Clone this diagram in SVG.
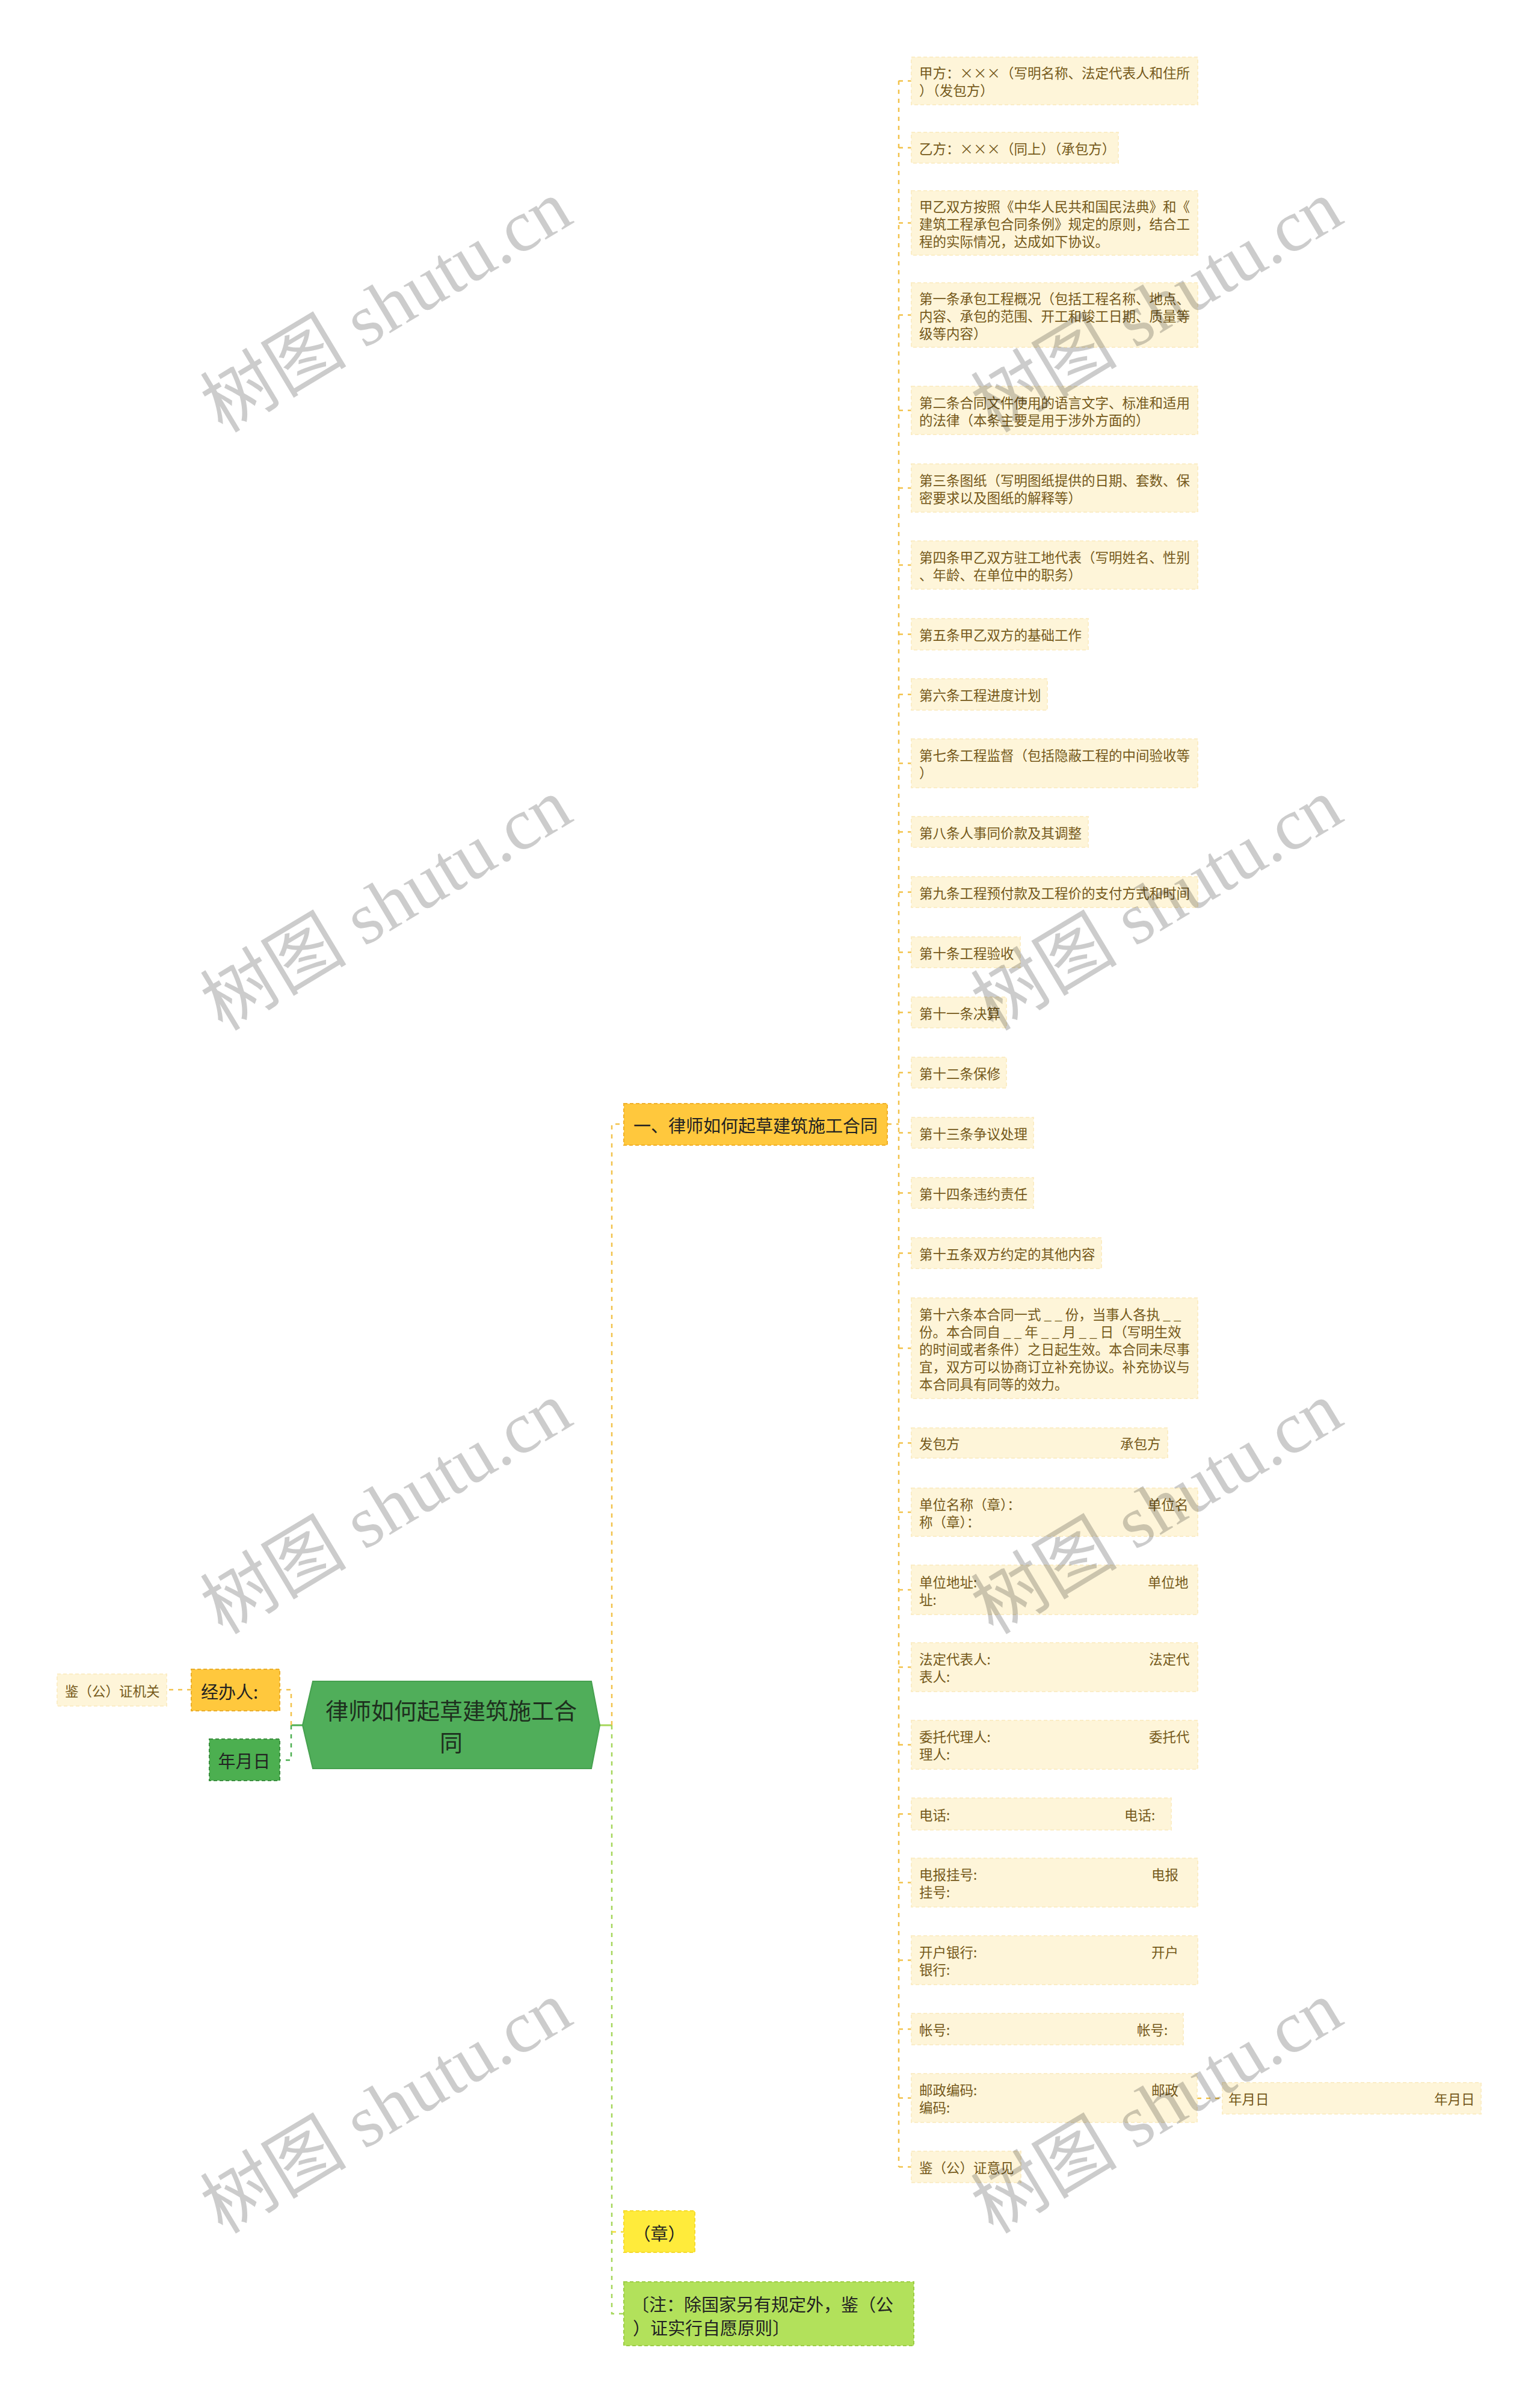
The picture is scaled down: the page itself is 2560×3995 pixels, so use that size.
<svg xmlns="http://www.w3.org/2000/svg" width="2560" height="3995" viewBox="0 0 2560 3995">
<style>
text{font-family:"Noto Sans CJK SC","Liberation Sans",sans-serif;dominant-baseline:central}
.leaf rect{fill:#FEF5D9;stroke:#FBEDC6;stroke-width:2;stroke-dasharray:6 4}
.leaf text{font-size:22.5px;fill:#75591A}
.cy{fill:none;stroke:#F2C24A;stroke-width:2.5;stroke-dasharray:7 8}
.cg{fill:none;stroke:#4CAF50;stroke-width:2.5;stroke-dasharray:7 8}
.cl{fill:none;stroke:#A5D65A;stroke-width:2.5;stroke-dasharray:7 8}
.br text{font-size:29px;fill:#222}
.wm{font-family:"Liberation Serif","Noto Sans CJK SC",serif;font-size:122px;fill:#000;fill-opacity:0.2;text-anchor:middle;dominant-baseline:central}
</style>
<rect width="2560" height="3995" fill="#FFFFFF"/>
<g id="connectors">
<path d="M503 2867 H484" fill="none" stroke="#4CAF50" stroke-width="3"/>
<path class="cy" d="M484 2867 V2808 H465"/>
<path class="cg" d="M484 2867 V2925 H465"/>
<path class="cy" d="M318 2808 H277"/>
<path d="M997 2867 H1017" fill="none" stroke="#A5D65A" stroke-width="3"/>
<path class="cy" d="M1017 2867 V1868 H1037"/>
<path class="cl" d="M1017 2867 V3845 H1037"/>
<path class="cy" d="M1017 3709 H1037" style="stroke:#F5DC3A"/>
<path class="cy" d="M1475 1868 H1494"/>
<path class="cy" d="M1494 134 V3601"/>
<path class="cy" d="M1494 134.5 H1515 M1494 245.5 H1515 M1494 370.5 H1515 M1494 523.5 H1515 M1494 682 H1515 M1494 811 H1515 M1494 939 H1515 M1494 1054 H1515 M1494 1154 H1515 M1494 1268.5 H1515 M1494 1382.5 H1515 M1494 1482.5 H1515 M1494 1582.5 H1515 M1494 1682.5 H1515 M1494 1782.5 H1515 M1494 1882.5 H1515 M1494 1982.5 H1515 M1494 2082.5 H1515 M1494 2240.5 H1515 M1494 2398 H1515 M1494 2513 H1515 M1494 2642 H1515 M1494 2770.5 H1515 M1494 2899.5 H1515 M1494 3014.5 H1515 M1494 3128.5 H1515 M1494 3257.5 H1515 M1494 3372 H1515 M1494 3486.5 H1515 M1494 3601 H1515"/>
<path class="cy" d="M1990 3487 H2032"/>
</g>
<g id="root">
<polygon points="520,2794 983,2794 997,2867 983,2939 520,2939 503,2867" fill="#50AE5A" stroke="#46A04F" stroke-width="2"/>
<text x="750" y="2840" text-anchor="middle" font-size="38" fill="#1E2F1E">律师如何起草建筑施工合</text>
<text x="750" y="2893" text-anchor="middle" font-size="38" fill="#1E2F1E">同</text>
</g>
<g id="n-jingbanren" class="br">
<rect x="318" y="2774" width="147" height="69" fill="#FFC83D" stroke="#EBAE2A" stroke-width="2" stroke-dasharray="6 4"/>
<text x="334" y="2810">经办人:</text>
</g>
<g id="n-jianzheng" class="leaf">
<rect x="95" y="2782" width="182" height="53"/>
<text x="108" y="2808.5">鉴（公）证机关</text>
</g>
<g id="n-nianyueri-left" class="br">
<rect x="348" y="2890" width="117" height="69" fill="#4CAF50" stroke="#3B8F3F" stroke-width="2" stroke-dasharray="6 4"/>
<text x="406" y="2925" text-anchor="middle">年月日</text>
</g>
<g id="n-branch1" class="br">
<rect x="1037" y="1834" width="438" height="69" fill="#FFC83D" stroke="#F0B028" stroke-width="2" stroke-dasharray="6 4"/>
<text x="1053" y="1869">一、律师如何起草建筑施工合同</text>
</g>
<g id="n-zhang" class="br">
<rect x="1037" y="3674" width="118" height="69" fill="#FFEB3B" stroke="#F5DA2C" stroke-width="2" stroke-dasharray="6 4"/>
<text x="1096" y="3710" text-anchor="middle">（章）</text>
</g>
<g id="n-note" class="br">
<rect x="1037" y="3792" width="482" height="106" fill="#B2E15B" stroke="#9CCD45" stroke-width="2" stroke-dasharray="6 4"/>
<text x="1050" y="3828">〔注：除国家另有规定外，鉴（公</text>
<text x="1052" y="3867">）证实行自愿原则〕</text>
</g>
<g id="n1" class="leaf"><rect x="1515" y="95" width="476" height="79"/><text x="1528" y="120">甲方：×××（写明名称、法定代表人和住所</text><text x="1528" y="149">）（发包方）</text></g>
<g id="n2" class="leaf"><rect x="1515" y="220" width="344" height="51"/><text x="1528" y="245.5">乙方：×××（同上）（承包方）</text></g>
<g id="n3" class="leaf"><rect x="1515" y="317" width="476" height="107"/><text x="1528" y="341.5">甲乙双方按照《中华人民共和国民法典》和《</text><text x="1528" y="370.5">建筑工程承包合同条例》规定的原则，结合工</text><text x="1528" y="399.5">程的实际情况，达成如下协议。</text></g>
<g id="n4" class="leaf"><rect x="1515" y="470" width="476" height="107"/><text x="1528" y="494.5">第一条承包工程概况（包括工程名称、地点、</text><text x="1528" y="523.5">内容、承包的范围、开工和竣工日期、质量等</text><text x="1528" y="552.5">级等内容）</text></g>
<g id="n5" class="leaf"><rect x="1515" y="642" width="476" height="80"/><text x="1528" y="667.5">第二条合同文件使用的语言文字、标准和适用</text><text x="1528" y="696.5">的法律（本条主要是用于涉外方面的）</text></g>
<g id="n6" class="leaf"><rect x="1515" y="771" width="476" height="80"/><text x="1528" y="796.5">第三条图纸（写明图纸提供的日期、套数、保</text><text x="1528" y="825.5">密要求以及图纸的解释等）</text></g>
<g id="n7" class="leaf"><rect x="1515" y="899" width="476" height="80"/><text x="1528" y="924.5">第四条甲乙双方驻工地代表（写明姓名、性别</text><text x="1528" y="953.5">、年龄、在单位中的职务）</text></g>
<g id="n8" class="leaf"><rect x="1515" y="1028" width="294" height="52"/><text x="1528" y="1054">第五条甲乙双方的基础工作</text></g>
<g id="n9" class="leaf"><rect x="1515" y="1128" width="226" height="52"/><text x="1528" y="1154">第六条工程进度计划</text></g>
<g id="n10" class="leaf"><rect x="1515" y="1228" width="476" height="81"/><text x="1528" y="1254">第七条工程监督（包括隐蔽工程的中间验收等</text><text x="1528" y="1283">）</text></g>
<g id="n11" class="leaf"><rect x="1515" y="1357" width="294" height="51"/><text x="1528" y="1382.5">第八条人事同价款及其调整</text></g>
<g id="n12" class="leaf"><rect x="1515" y="1457" width="476" height="51"/><text x="1528" y="1482.5">第九条工程预付款及工程价的支付方式和时间</text></g>
<g id="n13" class="leaf"><rect x="1515" y="1557" width="181" height="51"/><text x="1528" y="1582.5">第十条工程验收</text></g>
<g id="n14" class="leaf"><rect x="1515" y="1657" width="158" height="51"/><text x="1528" y="1682.5">第十一条决算</text></g>
<g id="n15" class="leaf"><rect x="1515" y="1757" width="158" height="51"/><text x="1528" y="1782.5">第十二条保修</text></g>
<g id="n16" class="leaf"><rect x="1515" y="1857" width="203" height="51"/><text x="1528" y="1882.5">第十三条争议处理</text></g>
<g id="n17" class="leaf"><rect x="1515" y="1957" width="203" height="51"/><text x="1528" y="1982.5">第十四条违约责任</text></g>
<g id="n18" class="leaf"><rect x="1515" y="2057" width="316" height="51"/><text x="1528" y="2082.5">第十五条双方约定的其他内容</text></g>
<g id="n19" class="leaf"><rect x="1515" y="2157" width="476" height="167"/><text x="1528" y="2182.5" xml:space="preserve">第十六条本合同一式 _ _ 份，当事人各执 _ _</text><text x="1528" y="2211.5" xml:space="preserve">份。本合同自 _ _ 年 _ _ 月 _ _ 日（写明生效</text><text x="1528" y="2240.5">的时间或者条件）之日起生效。本合同未尽事</text><text x="1528" y="2269.5">宜，双方可以协商订立补充协议。补充协议与</text><text x="1528" y="2298.5">本合同具有同等的效力。</text></g>
<g id="n20" class="leaf"><rect x="1515" y="2373" width="426" height="50"/><text x="1528" y="2398">发包方</text><text x="1862" y="2398">承包方</text></g>
<g id="n21" class="leaf"><rect x="1515" y="2473" width="476" height="80"/><text x="1528" y="2498.5">单位名称（章）：</text><text x="1908" y="2498.5">单位名</text><text x="1528" y="2527.5">称（章）：</text></g>
<g id="n22" class="leaf"><rect x="1515" y="2601" width="476" height="82"/><text x="1528" y="2627.5">单位地址:</text><text x="1908" y="2627.5">单位地</text><text x="1528" y="2656.5">址:</text></g>
<g id="n23" class="leaf"><rect x="1515" y="2730" width="476" height="81"/><text x="1528" y="2756">法定代表人:</text><text x="1910" y="2756">法定代</text><text x="1528" y="2785">表人:</text></g>
<g id="n24" class="leaf"><rect x="1515" y="2859" width="476" height="81"/><text x="1528" y="2885">委托代理人:</text><text x="1910" y="2885">委托代</text><text x="1528" y="2914">理人:</text></g>
<g id="n25" class="leaf"><rect x="1515" y="2988" width="432" height="53"/><text x="1528" y="3014.5">电话:</text><text x="1869" y="3014.5">电话:</text></g>
<g id="n26" class="leaf"><rect x="1515" y="3088" width="476" height="81"/><text x="1528" y="3114">电报挂号:</text><text x="1914" y="3114">电报</text><text x="1528" y="3143">挂号:</text></g>
<g id="n27" class="leaf"><rect x="1515" y="3217" width="476" height="81"/><text x="1528" y="3243">开户银行:</text><text x="1914" y="3243">开户</text><text x="1528" y="3272">银行:</text></g>
<g id="n28" class="leaf"><rect x="1515" y="3346" width="452" height="52"/><text x="1528" y="3372">帐号:</text><text x="1890" y="3372">帐号:</text></g>
<g id="n29" class="leaf"><rect x="1515" y="3446" width="475" height="81"/><text x="1528" y="3472">邮政编码:</text><text x="1914" y="3472">邮政</text><text x="1528" y="3501">编码:</text></g>
<g id="n30" class="leaf"><rect x="1515" y="3575" width="182" height="52"/><text x="1528" y="3601">鉴（公）证意见</text></g>
<g id="n31" class="leaf"><rect x="2032" y="3461" width="430" height="52"/><text x="2042" y="3487">年月日</text><text x="2384" y="3487">年月日</text></g>
<g id="watermarks">
<text class="wm" x="642" y="509" transform="rotate(-31 642 509)">树图 shutu.cn</text>
<text class="wm" x="642" y="1503" transform="rotate(-31 642 1503)">树图 shutu.cn</text>
<text class="wm" x="642" y="2506" transform="rotate(-31 642 2506)">树图 shutu.cn</text>
<text class="wm" x="642" y="3502" transform="rotate(-31 642 3502)">树图 shutu.cn</text>
<text class="wm" x="1923" y="509" transform="rotate(-31 1923 509)">树图 shutu.cn</text>
<text class="wm" x="1923" y="1503" transform="rotate(-31 1923 1503)">树图 shutu.cn</text>
<text class="wm" x="1923" y="2506" transform="rotate(-31 1923 2506)">树图 shutu.cn</text>
<text class="wm" x="1923" y="3502" transform="rotate(-31 1923 3502)">树图 shutu.cn</text>
</g>
</svg>
